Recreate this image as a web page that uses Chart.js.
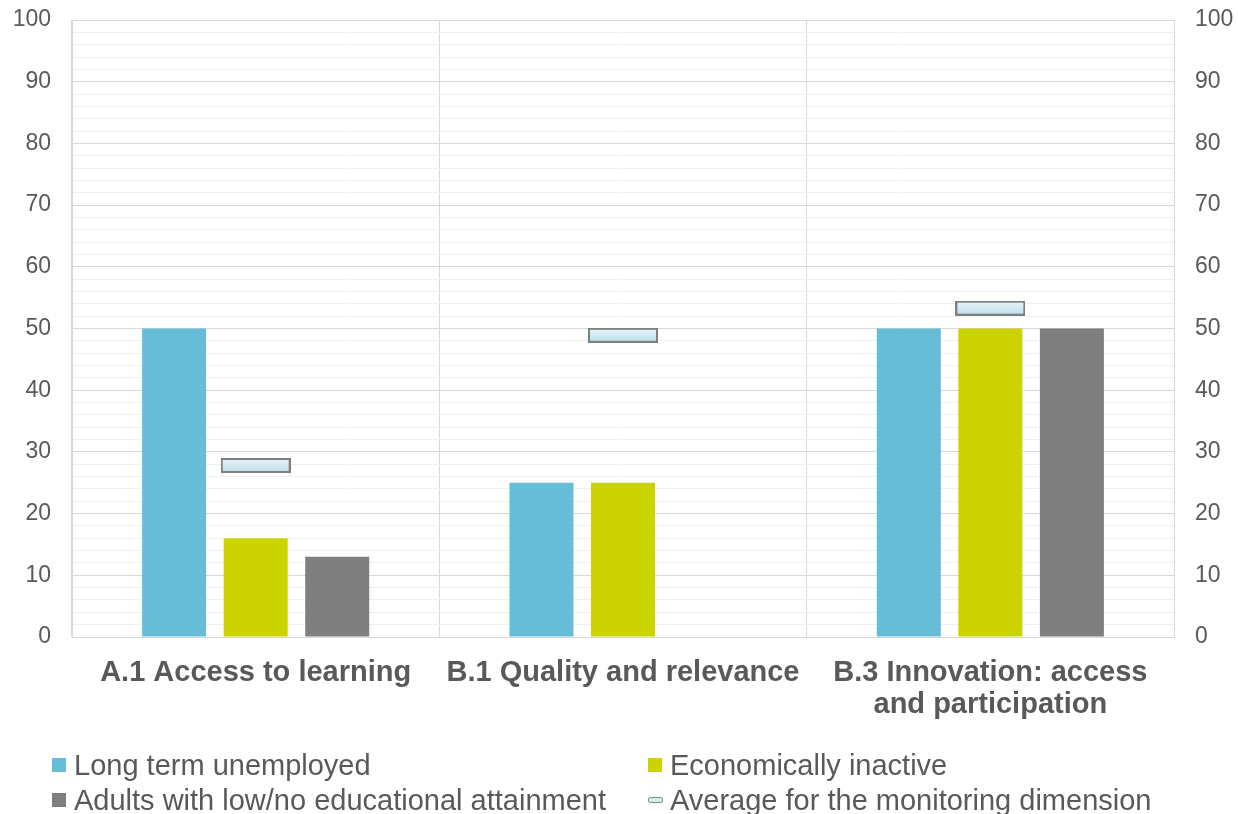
<!DOCTYPE html>
<html>
<head>
<meta charset="utf-8">
<script src="https://cdn.jsdelivr.net/npm/chart.js@4.4.1/dist/chart.umd.min.js"></script>
<style>
    body { margin: 0; background: #fff; }
    #wrap { position: relative; width: 1238px; height: 814px; }
    #legend {
        position: absolute; left: 52px; top: 750px;
        display: grid; grid-template-columns: 596px 580px; row-gap: 5px;
        font-family: "Liberation Sans", Arial, sans-serif; font-size: 29px; color: #595959;
    }
    .item { display: flex; align-items: center; height: 30px; white-space: nowrap; }
    .box { width: 14px; height: 14px; margin-right: 8px; }
    .avg { width: 13px; height: 4px; margin-right: 7px; border: 1px solid #8c8c8c; border-radius: 2px; background: #d6ecf3; }
</style>
</head>
<body>
<div id="wrap">
    <canvas id="chart" width="1238" height="814"></canvas>
    <div id="legend"></div>
</div>
<script>
const categories = ["A.1 Access to learning", "B.1 Quality and relevance", ["B.3 Innovation: access", "and participation"]];
const longTermUnemployed = [50, 25, 50];
const economicallyInactive = [16, 25, 50];
const lowAttainment = [13, null, 50];
const dimensionAverage = [27.8, 48.9, 53.3];

const fontFamily = "'Liberation Sans', Arial, sans-serif";
const textColor = "#595959";

// marker for the average: flat bar with a light blue gradient
function averageMarker() {
    const c = document.createElement("canvas");
    c.width = 70;
    c.height = 15;
    const g = c.getContext("2d");
    const grad = g.createLinearGradient(0, 0, 0, 15);
    grad.addColorStop(0, "#eaf5f9");
    grad.addColorStop(1, "#b9deea");
    g.fillStyle = grad;
    g.fillRect(1, 1, 68, 13);
    g.strokeStyle = "#7f7f7f";
    g.lineWidth = 2;
    g.strokeRect(1, 1, 68, 13);
    return c;
}

// fixed axis width; the tick padding should not push the plot down
function fitSide(width) {
    return scale => {
        scale.width = width;
        scale.paddingTop = 10;
        scale.paddingBottom = 10;
    };
}

const ctx = document.getElementById("chart").getContext("2d");
const chart = new Chart(ctx, {
    type: "bar",
    data: {
        labels: categories,
        datasets: [
            { label: "Long term unemployed", data: longTermUnemployed, backgroundColor: "#65bdd7", order: 1 },
            { label: "Economically inactive", data: economicallyInactive, backgroundColor: "#ccd400", order: 1 },
            { label: "Adults with low/no educational attainment", data: lowAttainment, backgroundColor: "#7f7f7f", order: 1 },
            {
                type: "line",
                label: "Average for the monitoring dimension",
                data: dimensionAverage,
                showLine: false,
                pointStyle: averageMarker(),
                order: 0
            }
        ]
    },
    options: {
        responsive: false,
        animation: false,
        layout: { padding: { top: 20, bottom: 87, left: 0, right: 0 } },
        datasets: {
            bar: { categoryPercentage: 0.666, barPercentage: 0.785 }
        },
        plugins: {
            legend: { display: false },
            tooltip: { enabled: false }
        },
        scales: {
            x: {
                offset: true,
                grid: { offset: true, color: "#d9d9d9", drawTicks: false },
                border: { color: "#d9d9d9" },
                ticks: {
                    padding: 20,
                    maxRotation: 0,
                    color: textColor,
                    font: { family: fontFamily, size: 29, weight: "bold", lineHeight: 1.1 }
                },
                afterFit: scale => { scale.height = 90; }
            },
            y: {
                min: 0,
                max: 100,
                grid: {
                    drawTicks: false,
                    color: c => (c.tick && c.tick.value % 10 === 0 ? "#d9d9d9" : "#f0f0f0")
                },
                border: { color: "#d9d9d9" },
                ticks: {
                    stepSize: 2,
                    autoSkip: false,
                    padding: 21,
                    color: textColor,
                    font: { family: fontFamily, size: 23 },
                    callback: v => (v % 10 === 0 ? v : "")
                },
                afterFit: fitSide(72)
            },
            y2: {
                position: "right",
                min: 0,
                max: 100,
                grid: { display: false, drawTicks: false },
                border: { color: "#d9d9d9" },
                ticks: {
                    stepSize: 10,
                    padding: 21,
                    color: textColor,
                    font: { family: fontFamily, size: 23 }
                },
                afterFit: fitSide(64)
            }
        }
    }
});

// legend laid out in two columns under the chart
const legend = document.getElementById("legend");
chart.data.datasets.forEach(ds => {
    const item = document.createElement("div");
    item.className = "item";
    const icon = document.createElement("span");
    if (ds.type === "line") {
        icon.className = "avg";
    } else {
        icon.className = "box";
        icon.style.background = ds.backgroundColor;
    }
    item.appendChild(icon);
    item.appendChild(document.createTextNode(ds.label));
    legend.appendChild(item);
});
</script>
</body>
</html>
